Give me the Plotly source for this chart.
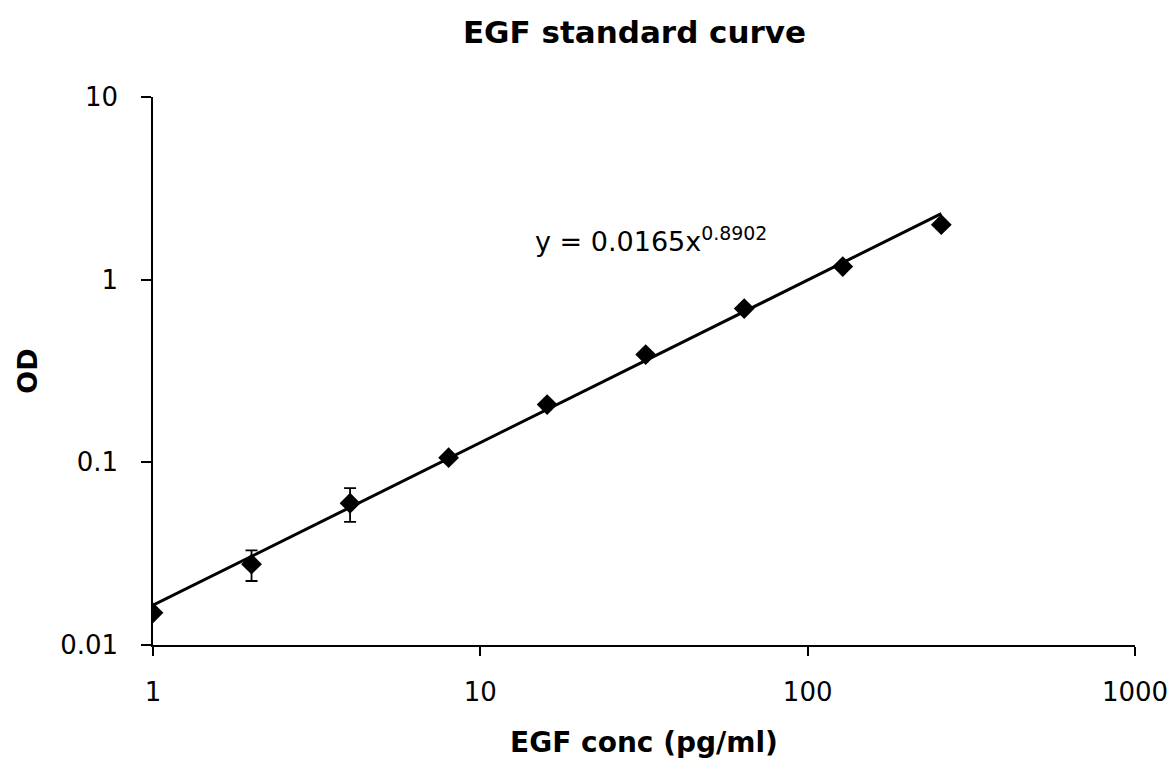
import numpy as np
import plotly.graph_objects as go

# Data
conc = [1, 2, 4, 8, 16, 32, 64, 128, 256]
od = [0.0150, 0.0277, 0.0597, 0.106, 0.207, 0.389, 0.695, 1.18, 2.00]
od_err = [0.0, 0.0053, 0.0125, 0.0, 0.0, 0.0, 0.0, 0.0, 0.0]

# Power trendline coefficients (as shown on chart)
coef_a = 0.0165
coef_b = 0.8902
x_tick_vals = [1, 10, 100, 1000]
x_tick_text = ["1", "10", "100", "1000"]
y_tick_vals = [0.01, 0.1, 1, 10]
y_tick_text = ["0.01", "0.1", "1", "10"]

trend_x = np.array([conc[0], conc[-1]], dtype=float)
trend_y = coef_a * trend_x ** coef_b

FONT = "DejaVu Sans, Liberation Sans, Arial, sans-serif"

fig = go.Figure()
fig.add_trace(go.Scatter(
    x=trend_x, y=trend_y, mode="lines",
    line=dict(color="black", width=3), showlegend=False, hoverinfo="skip"))
fig.add_trace(go.Scatter(
    x=conc, y=od, mode="markers",
    marker=dict(symbol="diamond", size=16, color="black"),
    error_y=dict(type="data", array=od_err, visible=True, color="black",
                 thickness=1.8, width=6),
    showlegend=False))

fig.add_annotation(
    x=1.161, y=0.222, xref="x", yref="y",
    text="y = 0.0165x<sup>0.8902</sup>", showarrow=False,
    font=dict(family=FONT, size=27, color="black"), xanchor="left", yanchor="middle")

fig.update_layout(
    width=1175, height=765,
    margin=dict(l=153, r=40, t=97, b=120, autoexpand=False),
    paper_bgcolor="white", plot_bgcolor="white",
    title=dict(text="<b>EGF standard curve</b>", x=0.54, xanchor="center",
               y=0.958, yanchor="middle",
               font=dict(family=FONT, size=31, color="black")),
    font=dict(family=FONT, color="black"),
)
fig.update_xaxes(
    type="log", range=[0, 3], tickvals=x_tick_vals, ticktext=x_tick_text,
    showgrid=False, zeroline=False, showline=True, linecolor="black", linewidth=1.5,
    ticks="outside", ticklen=9, tickwidth=1.5, tickcolor="black", automargin=False,
    tickfont=dict(family=FONT, size=26, color="black"), ticklabelstandoff=14,
    title=dict(text="<b>EGF conc (pg/ml)</b>", font=dict(family=FONT, size=28, color="black"),
               standoff=26),
)
fig.update_yaxes(
    type="log", range=[-2, 1], tickvals=y_tick_vals, ticktext=y_tick_text,
    showgrid=False, zeroline=False, showline=True, linecolor="black", linewidth=1.5,
    ticks="outside", ticklen=10, tickwidth=1.5, tickcolor="black", automargin=False,
    tickfont=dict(family=FONT, size=26, color="black"), ticklabelstandoff=18,
    title=dict(text="<b>OD</b>", font=dict(family=FONT, size=27, color="black"),
               standoff=15),
)

fig.write_html("out.html")
